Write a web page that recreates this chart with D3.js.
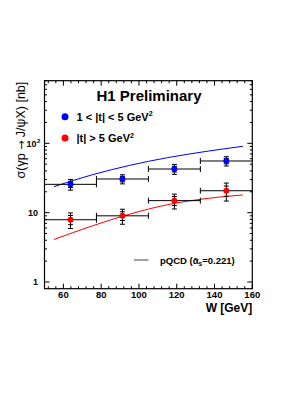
<!DOCTYPE html>
<html>
<head>
<meta charset="utf-8">
<script src="https://cdn.jsdelivr.net/npm/d3@7"></script>
<style>
  html, body { margin: 0; padding: 0; background: #fff; }
  svg { display: block; font-family: "Liberation Sans", Arial, sans-serif; }
</style>
</head>
<body>
<div id="chart"></div>
<script>
// data
const binEdges = [50, 77.5, 105, 132.5, 160];
const wCentres = [63.75, 91.25, 118.75, 146.25];

const blueSigma = [25.6, 30.6, 42.6, 55.6];
const blueStat = [2.6, 2.8, 4.0, 5.0];
const blueTot = [4.5, 4.6, 7.0, 8.5];

const redSigma = [7.9, 9.0, 14.9, 20.7];
const redStat = [1.2, 1.3, 2.2, 3.5];
const redTot = [2.0, 2.2, 3.6, 6.0];

const pqcdW = [55, 75, 95, 115, 135, 155];
const pqcdBlue = [23.7, 35, 48, 62, 76, 90.6];
const pqcdRed = [4.1, 6.4, 9.5, 13.0, 15.9, 18.0];

const xTicks = [60, 80, 100, 120, 140, 160];
const yTicks = [1, 10, 100];
const yTickLabels = ["1", "10", "10"];

(function() {
    'use strict';

    const width = 305;
    const height = 395;

    const left = 44.5;
    const right = 252.3;
    const top = 80.7;
    const bottom = 288.7;

    const svg = d3.select("#chart")
        .append("svg")
        .attr("width", width)
        .attr("height", height);

    const x = d3.scaleLinear().domain([50, 160]).range([left, right]);
    const y = d3.scaleLog().domain([0.8, 800]).range([bottom, top]);

    // frame
    svg.append("rect")
        .attr("x", left).attr("y", top)
        .attr("width", right - left).attr("height", bottom - top)
        .attr("fill", "none").attr("stroke", "#000").attr("stroke-width", 1.2);

    // x ticks (major every 20, minor every 4)
    const xMinor = d3.range(52, 160.1, 4);
    const ticks = svg.append("g").attr("stroke", "#000").attr("stroke-width", 1);
    xMinor.forEach(v => {
        const len = xTicks.includes(v) ? 5 : 2.5;
        ticks.append("line").attr("x1", x(v)).attr("x2", x(v)).attr("y1", bottom).attr("y2", bottom - len);
        ticks.append("line").attr("x1", x(v)).attr("x2", x(v)).attr("y1", top).attr("y2", top + len);
    });

    // y ticks (log, minor 2..9)
    const yMinor = [];
    [1, 10, 100].forEach(d => { for (let k = 1; k < 10; k++) yMinor.push(d * k); });
    yMinor.filter(v => v >= 0.8 && v <= 800).forEach(v => {
        const len = yTicks.includes(v) ? 5 : 2.5;
        ticks.append("line").attr("x1", left).attr("x2", left + len).attr("y1", y(v)).attr("y2", y(v));
        ticks.append("line").attr("x1", right).attr("x2", right - len).attr("y1", y(v)).attr("y2", y(v));
    });

    // tick labels
    svg.append("g")
        .selectAll("text")
        .data(xTicks)
        .join("text")
        .attr("x", d => x(d))
        .attr("y", 297.5)
        .attr("text-anchor", "middle")
        .attr("font-size", "9.5px")
        .attr("font-weight", "bold")
        .text(d => d);

    svg.append("g")
        .selectAll("text")
        .data(yTicks)
        .join("text")
        .attr("x", d => d === 100 ? 36.5 : 38)
        .attr("y", d => y(d) + 3.5)
        .attr("text-anchor", "end")
        .attr("font-size", "9px")
        .attr("font-weight", "bold")
        .text((d, i) => yTickLabels[i]);
    svg.append("text")
        .attr("x", 37).attr("y", y(100) - 0.5)
        .attr("font-size", "6px").attr("font-weight", "bold")
        .text("2");

    // axis titles
    svg.append("text")
        .attr("x", right).attr("y", 311.5)
        .attr("text-anchor", "end")
        .attr("font-size", "12px")
        .attr("font-weight", "bold")
        .text("W [GeV]");

    const ylab = svg.append("text")
        .attr("transform", `translate(24.5, ${top + 1}) rotate(-90)`)
        .attr("text-anchor", "end")
        .attr("font-size", "12.5px")
        .text("σ(γp ");
    ylab.append("tspan").attr("font-family", "DejaVu Sans").attr("font-size", "11px").text("→");
    ylab.append("tspan").text(" J/ψX) [nb]");

    // pQCD curves
    const line = d3.line()
        .x(d => x(d[0]))
        .y(d => y(d[1]))
        .curve(d3.curveMonotoneX);

    svg.append("path")
        .datum(pqcdW.map((w, i) => [w, pqcdBlue[i]]))
        .attr("d", line)
        .attr("fill", "none").attr("stroke", "#0000ff").attr("stroke-width", 1);

    svg.append("path")
        .datum(pqcdW.map((w, i) => [w, pqcdRed[i]]))
        .attr("d", line)
        .attr("fill", "none").attr("stroke", "#ff0000").attr("stroke-width", 1);

    // data points with errors
    function drawSeries(sigma, stat, tot, colour) {
        const g = svg.append("g").attr("stroke", "#000").attr("stroke-width", 1);
        sigma.forEach((s, i) => {
            const x0 = x(binEdges[i]);
            const x1 = x(binEdges[i + 1]);
            const cx = x(wCentres[i]);
            // horizontal bin bar with end caps
            g.append("line").attr("x1", x0).attr("x2", x1).attr("y1", y(s)).attr("y2", y(s));
            if (i > 0) g.append("line").attr("x1", x0).attr("x2", x0).attr("y1", y(s) - 3).attr("y2", y(s) + 3);
            if (i < sigma.length - 1) g.append("line").attr("x1", x1).attr("x2", x1).attr("y1", y(s) - 3).attr("y2", y(s) + 3);
            // vertical error bar
            g.append("line").attr("x1", cx).attr("x2", cx).attr("y1", y(s + tot[i])).attr("y2", y(s - tot[i]));
            [s + tot[i], s - tot[i], s + stat[i], s - stat[i]].forEach(v => {
                g.append("line").attr("x1", cx - 2.5).attr("x2", cx + 2.5).attr("y1", y(v)).attr("y2", y(v));
            });
        });
        svg.append("g")
            .selectAll("circle")
            .data(sigma)
            .join("circle")
            .attr("cx", (d, i) => x(wCentres[i]))
            .attr("cy", d => y(d))
            .attr("r", 3)
            .attr("fill", colour);
    }

    drawSeries(blueSigma, blueStat, blueTot, "#0000ff");
    drawSeries(redSigma, redStat, redTot, "#ff0000");

    // title and legend
    svg.append("text")
        .attr("x", 96.5).attr("y", 101)
        .attr("font-size", "15px")
        .attr("font-weight", "bold")
        .text("H1 Preliminary");

    const legend = [
        { colour: "#0000ff", label: "1 < |t| < 5 GeV", y: 116.7 },
        { colour: "#ff0000", label: "|t| > 5 GeV", y: 138 }
    ];
    legend.forEach(d => {
        svg.append("circle").attr("cx", 65).attr("cy", d.y).attr("r", 3.5).attr("fill", d.colour);
        const t = svg.append("text")
            .attr("x", 76.5).attr("y", d.y + 4)
            .attr("font-size", "11px")
            .attr("font-weight", "bold")
            .text(d.label);
        t.append("tspan").attr("dy", -4.5).attr("font-size", "7px").text("2");
    });

    svg.append("line")
        .attr("x1", 134).attr("x2", 148.5).attr("y1", 260).attr("y2", 260)
        .attr("stroke", "#808080").attr("stroke-width", 1.5);
    const pq = svg.append("text")
        .attr("x", 160).attr("y", 263.5)
        .attr("font-size", "9.5px")
        .attr("font-weight", "bold")
        .text("pQCD (");
    pq.append("tspan").text("ᾱ");
    pq.append("tspan").attr("dy", 2.5).attr("font-size", "6.5px").text("s");
    pq.append("tspan").attr("dy", -2.5).text("=0.221)");

})();
</script>
</body>
</html>
